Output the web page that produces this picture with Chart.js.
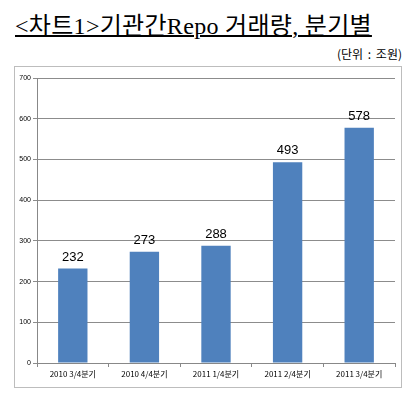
<!DOCTYPE html>
<html>
<head>
<meta charset="utf-8">
<script src="https://cdn.jsdelivr.net/npm/chart.js@4"></script>
<style>
  body { margin: 0; background: #fff; width: 407px; height: 394px; position: relative; overflow: hidden; }
  #title {
    position: absolute; left: 15px; top: 6px;
    font-family: "Liberation Serif", "Noto Sans CJK KR", serif;
    font-size: 24px; text-decoration: underline; text-decoration-thickness: 2px;
    color: #000; white-space: nowrap; letter-spacing: 0.3px;
  }
  #unit {
    position: absolute; right: 5px; top: 45px;
    font-family: "Noto Sans CJK KR", sans-serif; font-size: 12px; color: #000;
    word-spacing: 2px;
  }
  #box {
    position: absolute; left: 14px; top: 66px; width: 386px; height: 320px;
    border: 1px solid #bdbdbd;
  }
</style>
</head>
<body>
<div id="title">&lt;차트1&gt;기관간Repo 거래량, 분기별</div>
<div id="unit">(단위 : 조원)</div>
<div id="box"><canvas id="chart" width="386" height="320"></canvas></div>
<script>
// Data
const categories = ['2010 3/4분기', '2010 4/4분기', '2011 1/4분기', '2011 2/4분기', '2011 3/4분기'];
const volumes = [232, 273, 288, 493, 578];
const yTicks = [0, 100, 200, 300, 400, 500, 600, 700];

// draw the value above each bar
const valueLabels = {
  id: 'valueLabels',
  afterDatasetsDraw(chart) {
    const ctx = chart.ctx;
    const meta = chart.getDatasetMeta(0);
    ctx.save();
    ctx.font = '13px "Liberation Sans Narrow", "Liberation Sans", sans-serif';
    ctx.fillStyle = '#000';
    ctx.textAlign = 'center';
    ctx.textBaseline = 'bottom';
    meta.data.forEach((bar, i) => {
      ctx.fillText(volumes[i], bar.x, bar.y - 5);
    });
    ctx.restore();
  }
};

new Chart(document.getElementById('chart'), {
  type: 'bar',
  data: {
    labels: categories,
    datasets: [{
      data: volumes,
      backgroundColor: '#4f81bd',
      categoryPercentage: 1,
      barPercentage: 0.41
    }]
  },
  options: {
    responsive: false,
    animation: false,
    layout: { padding: { left: 0, top: 11, right: 6, bottom: 0 } },
    plugins: { legend: { display: false }, tooltip: { enabled: false } },
    scales: {
      x: {
        afterFit: s => { s.height = 24; },
        grid: { drawOnChartArea: false, tickLength: 4, color: '#888', offset: true },
        border: { color: '#888' },
        ticks: { color: '#000', font: { size: 8, family: '"Noto Sans CJK KR", sans-serif' }, maxRotation: 0, padding: 2 }
      },
      y: {
        min: 0, max: 700,
        afterFit: s => { s.width = 22; },
        afterBuildTicks: s => { s.ticks = yTicks.map(v => ({ value: v })); },
        grid: { color: '#8c8c8c', tickLength: 4 },
        border: { color: '#888' },
        ticks: { color: '#000', font: { size: 7, family: '"Liberation Sans", sans-serif' }, padding: 2 }
      }
    }
  },
  plugins: [valueLabels]
});
</script>
</body>
</html>
